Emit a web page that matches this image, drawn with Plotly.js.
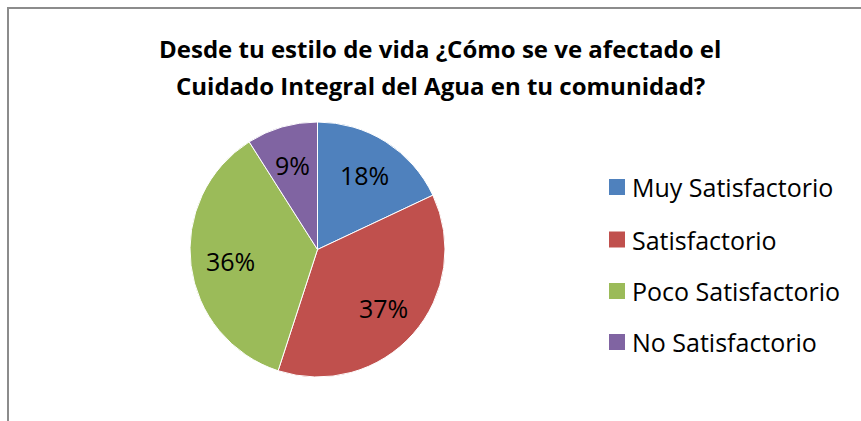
<!DOCTYPE html>
<html>
<head>
<meta charset="utf-8">
<script src="https://cdn.plot.ly/plotly-3.0.1.min.js"></script>
<style>
  html, body { margin:0; padding:0; background:#fff; }
  #chart { width:861px; height:421px; }
</style>
</head>
<body>
<div id="chart"></div>
<script>
  // data
  const labels = ['Muy Satisfactorio', 'Satisfactorio', 'Poco Satisfactorio', 'No Satisfactorio'];
  const values = [18, 37, 36, 9];
  const colors = ['#4F81BD', '#C0504D', '#9BBB59', '#8064A2'];
  const titleLines = ['Desde tu estilo de vida ¿Cómo se ve afectado el', 'Cuidado Integral del Agua en tu comunidad?'];

  const W = 861, H = 421;
  const px = x => x / W, py = y => 1 - y / H;
  const font = '"Open Sans", sans-serif';

  // pie box in pixels
  const cx = 317.5, cy = 249.5, R = 127.5;

  const trace = {
    type: 'pie',
    labels: labels,
    values: values,
    marker: { colors: colors, line: { color: '#fff', width: 1 } },
    sort: false,
    direction: 'clockwise',
    rotation: 0,
    textinfo: 'none',
    domain: { x: [px(cx - R), px(cx + R)], y: [py(cy + R), py(cy - R)] },
    showlegend: false,
    hoverinfo: 'label+percent'
  };

  const shapes = [{
    type: 'path', xref: 'paper', yref: 'paper',
    path: `M ${px(8)} ${py(421)} L ${px(8)} ${py(8)} L ${px(861)} ${py(8)}`,
    line: { color: '#8c8c8c', width: 2 }
  }];
  const annotations = [];

  // percent labels, Excel-style: further out than plotly puts them
  const total = values.reduce((a, b) => a + b, 0);
  let acc = 0;
  values.forEach(v => {
    const mid = (acc + v / 2) / total * 2 * Math.PI;
    acc += v;
    const r = R * 0.69;
    annotations.push({
      xref: 'paper', yref: 'paper',
      x: px(cx + r * Math.sin(mid)), y: py(cy - r * Math.cos(mid)),
      xanchor: 'center', yanchor: 'middle', showarrow: false,
      text: Math.round(v / total * 100) + '%',
      font: { family: font, size: 25, color: '#000' }
    });
  });

  // hand-built legend so row spacing matches the original
  const rowY = [187, 239.5, 291, 342];
  labels.forEach((lab, i) => {
    shapes.push({
      type: 'rect', xref: 'paper', yref: 'paper',
      x0: px(609), x1: px(625), y0: py(rowY[i] + 8), y1: py(rowY[i] - 8),
      fillcolor: colors[i], line: { width: 0 }
    });
    annotations.push({
      xref: 'paper', yref: 'paper', x: px(630), y: py(rowY[i]),
      xanchor: 'left', yanchor: 'middle', showarrow: false,
      text: lab, font: { family: font, size: 25, color: '#000' }
    });
  });

  // title, two lines set apart like the original
  const titleY = [48, 85];
  titleLines.forEach((t, i) => {
    annotations.push({
      xref: 'paper', yref: 'paper', x: px(440), y: py(titleY[i]),
      xanchor: 'center', yanchor: 'middle', showarrow: false,
      text: '<b>' + t + '</b>', font: { family: font, size: 24, color: '#000' }
    });
  });

  const layout = {
    width: W, height: H,
    margin: { l: 0, r: 0, t: 0, b: 0 },
    paper_bgcolor: '#fff',
    shapes: shapes,
    annotations: annotations
  };

  Plotly.newPlot('chart', [trace], layout, { displayModeBar: false });
</script>
</body>
</html>
